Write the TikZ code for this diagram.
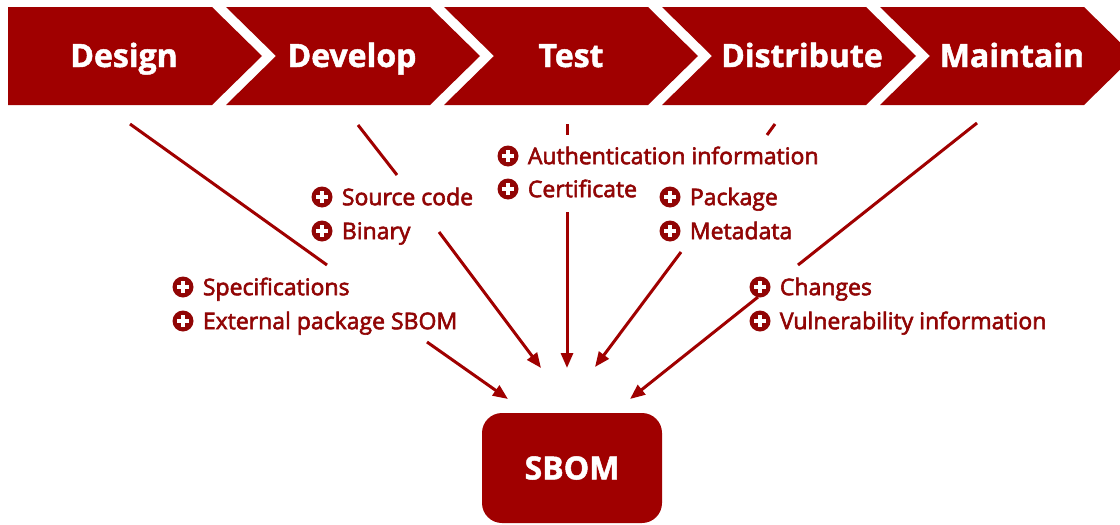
\documentclass[tikz,border=0pt]{standalone}
\usepackage{fontspec}
\setmainfont{Open Sans}
\newfontfamily\phasefont[FakeBold=1.5]{Open Sans Bold}
\newfontfamily\itemfont[FakeBold=2.5]{Open Sans}
\usetikzlibrary{arrows.meta}
\definecolor{sbred}{RGB}{160,0,0}
\definecolor{txtred}{RGB}{145,5,5}
\begin{document}
\begin{tikzpicture}[x=1pt,y=-1pt,
  chev/.style={fill=sbred, draw=none},
  phase/.style={text=white, font=\phasefont\fontsize{32}{36}\selectfont, inner sep=0, anchor=base},
  item/.style={text=txtred, font=\itemfont\fontsize{23}{26}\selectfont, anchor=base west, inner sep=0},
  plusdot/.style={circle, fill=txtred, minimum size=21pt, inner sep=0,
    path picture={
      \draw[white,line width=4.2pt] ([xshift=-6pt]path picture bounding box.center) -- ([xshift=6pt]path picture bounding box.center);
      \draw[white,line width=4.2pt] ([yshift=-6pt]path picture bounding box.center) -- ([yshift=6pt]path picture bounding box.center);}},
  conn/.style={draw=sbred, line width=3pt},
  arr/.style={conn, -{Triangle[length=15pt,width=12pt]}},
  sbombox/.style={fill=sbred, rounded corners=20pt, minimum width=180pt, minimum height=110pt, text=white, font=\phasefont\fontsize{32}{36}\selectfont},
]
\useasboundingbox (0,0) rectangle (1120,525);
\clip (0,0) rectangle (1120,525);
\fill[white] (0,0) rectangle (1120,525);

% chevrons
\fill[chev] (8,7) -- (212,7) -- (262,56) -- (212,105) -- (8,105) -- cycle;
\foreach \x in {226,444,662,880}{
  \fill[chev] (\x,7) -- ({\x+204},7) -- ({\x+254},56) -- ({\x+204},105) -- (\x,105) -- ({\x+50},56) -- cycle;
}
\node[phase] (design) at (124,67) {Design};
\node[phase] (develop) at (352,67) {Develop};
\node[phase] (test) at (571,67) {Test};
\node[phase] (distribute) at (802,67) {Distribute};
\node[phase] (maintain) at (1012,67) {Maintain};

% SBOM
\node[sbombox] (sbom) at (572,468) {SBOM};

% items
\node[plusdot] (p1) at (322,197) {};
\node[item] (t1) at ([xshift=9pt,yshift=-8.2pt]p1.east) {Source code};
\node[plusdot] (p2) at (322,231) {};
\node[item] (t2) at ([xshift=9pt,yshift=-8.2pt]p2.east) {Binary};
\node[plusdot] (p3) at (508,156) {};
\node[item] (t3) at ([xshift=9pt,yshift=-8.2pt]p3.east) {Authentication information};
\node[plusdot] (p4) at (508,189) {};
\node[item] (t4) at ([xshift=9pt,yshift=-8.2pt]p4.east) {Certificate};
\node[plusdot] (p5) at (670,197) {};
\node[item] (t5) at ([xshift=9pt,yshift=-8.2pt]p5.east) {Package};
\node[plusdot] (p6) at (670,231) {};
\node[item] (t6) at ([xshift=9pt,yshift=-8.2pt]p6.east) {Metadata};
\node[plusdot] (p7) at (183,287) {};
\node[item] (t7) at ([xshift=9pt,yshift=-8.2pt]p7.east) {Specifications};
\node[plusdot] (p8) at (183,321) {};
\node[item] (t8) at ([xshift=9pt,yshift=-8.2pt]p8.east) {External package SBOM};
\node[plusdot] (p10) at (760,321) {};
\node[item] (t10) at ([xshift=9pt,yshift=-8.2pt]p10.east) {Vulnerability information};

% connectors
\coordinate (a1s) at (130,124); \coordinate (a1m) at (327,265);
\coordinate (a1n) at (427,342); \coordinate (a1e) at (508,399);
\coordinate (a2s) at (358,125); \coordinate (a2m) at (397,175);
\coordinate (a2n) at (439,232); \coordinate (a2e) at (541,368);
\coordinate (a3s) at (567,124); \coordinate (a3m) at (567,135);
\coordinate (a3n) at (567,212); \coordinate (a3e) at (567,368);
\coordinate (a4s) at (775,124); \coordinate (a4m) at (767,135);
\coordinate (a4n) at (681,252); \coordinate (a4e) at (595,367);
\coordinate (a5s) at (977,123); \coordinate (a5m) at (798,265);
\coordinate (a5n) at (758,297); \coordinate (a5e) at (630,399);
\draw[conn] (a1s) -- (a1m); \draw[arr] (a1n) -- (a1e);
\draw[conn] (a2s) -- (a2m); \draw[arr] (a2n) -- (a2e);
\draw[conn] (a3s) -- (a3m); \draw[arr] (a3n) -- (a3e);
\draw[conn] (a4s) -- (a4m); \draw[arr] (a4n) -- (a4e);
\draw[conn] (a5s) -- (a5m); \draw[arr] (a5n) -- (a5e);

% Changes item drawn over the Maintain connector
\node[plusdot] (p9) at (760,287) {};
\node[item] (t9) at ([xshift=9pt,yshift=-8.2pt]p9.east) {Changes};
\end{tikzpicture}
\end{document}
